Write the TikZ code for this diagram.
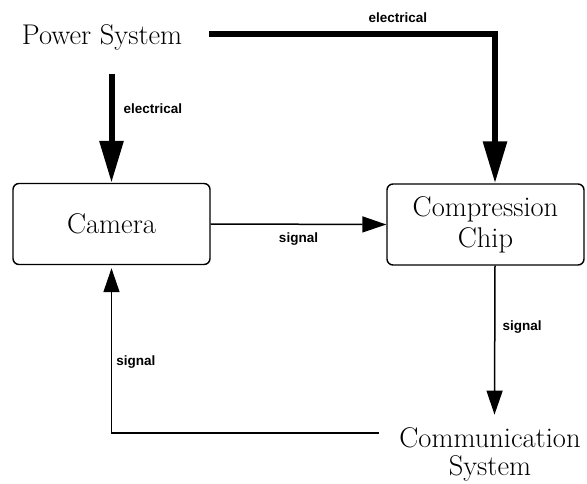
\documentclass[tikz,border=0pt]{standalone}
\usepackage{fontspec}
\newfontfamily\labelfont{Liberation Sans}
\usetikzlibrary{arrows.meta,positioning}

\tikzset{
  block/.style={draw,line width=1.4pt,rounded corners=6pt,minimum width=197pt,
    minimum height=81pt,align=center,font=\fontsize{28.5}{31}\selectfont},
  plain/.style={inner sep=0pt,font=\fontsize{28.5}{31}\selectfont},
  power/.style={line width=6pt,-{Triangle[length=42pt,width=23pt]}},
  sig/.style={line width=1.5pt,-{Triangle[length=24pt,width=16pt]}},
  flowlabel/.style={font=\labelfont\bfseries\fontsize{13.5}{15}\selectfont,inner sep=2pt}
}

\begin{document}
\begin{tikzpicture}[x=1pt,y=1pt,line cap=butt,line join=miter]
    \useasboundingbox (0,0) rectangle (587,-484);

    \node[plain] (pwr) at (102,-37) {Power System};
    \node[block] (camera) at (111.5,-224) {Camera};
    \node[block] (chip) at (485.5,-224.5) {Compression\\Chip};
    \node[plain] (comm) at (490,-438) {Communication};
    \node[plain,below=7pt of comm] (commsys) {System};

    % power lines
    \draw[power] ([xshift=27pt,yshift=3pt]pwr.east) -| ([xshift=9.5pt]chip.north)
        node[flowlabel,pos=0.33,above=6pt] {electrical};
    \draw[power] ([yshift=-24pt]pwr.south -| camera.north) -- (camera.north)
        node[flowlabel,pos=0.32,right=7pt] {electrical};

    % signal lines
    \draw[sig] (camera.east) -- (chip.west)
        node[flowlabel,midway,below=6pt] {signal};
    \draw[sig] ([xshift=9.5pt]chip.south) -- ([xshift=4.5pt,yshift=13pt]comm.north)
        node[flowlabel,pos=0.41,right=5pt] {signal};
    \draw[sig] ([xshift=-20pt,yshift=5pt]comm.west) -| ([yshift=-3pt]camera.south)
        node[flowlabel,pos=0.715,right=2pt] {signal};
\end{tikzpicture}
\end{document}
